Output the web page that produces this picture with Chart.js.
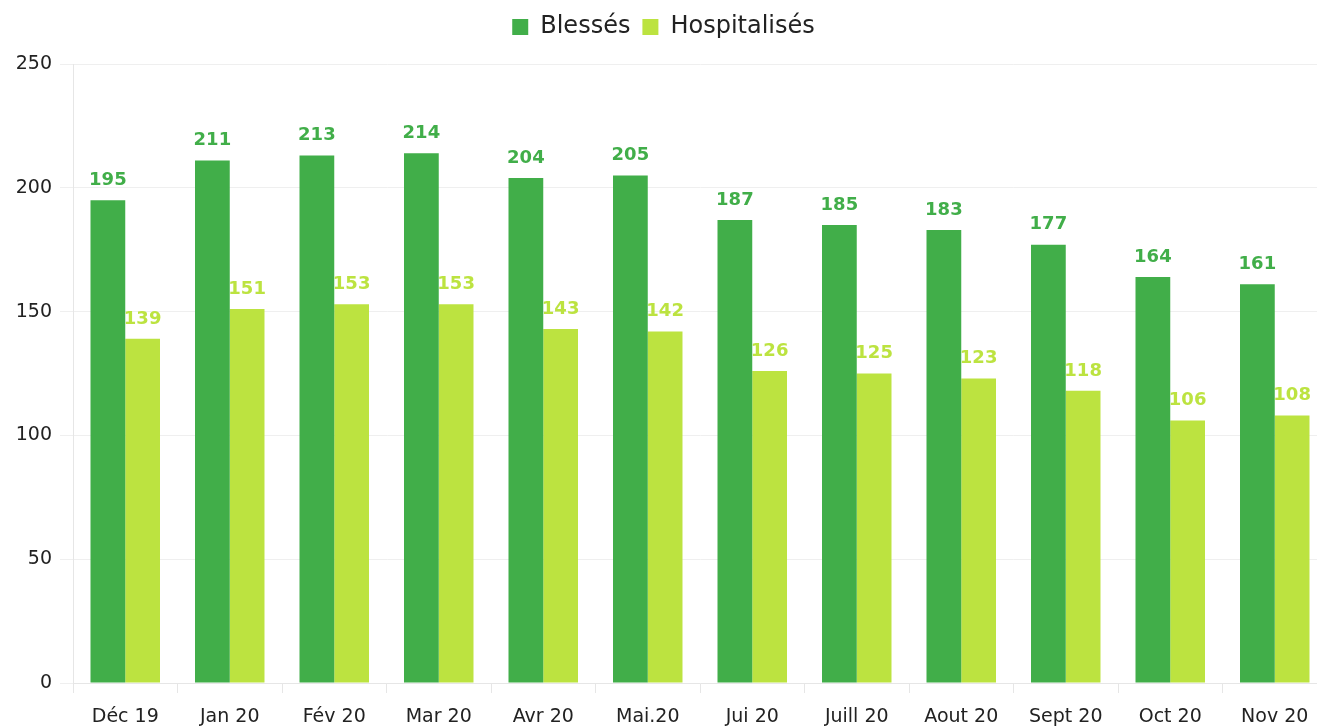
<!DOCTYPE html>
<html>
<head>
<meta charset="utf-8">
<script src="https://cdn.jsdelivr.net/npm/chart.js@4/dist/chart.umd.min.js"></script>
<style>
  html, body { margin: 0; padding: 0; background: #fff; overflow: hidden; }
  #wrap { width: 1327px; height: 726px; position: relative; }
</style>
</head>
<body>
<div id="wrap"><canvas id="accidents"></canvas></div>
<script>
const months = ["Déc 19", "Jan 20", "Fév 20", "Mar 20", "Avr 20", "Mai.20", "Jui 20", "Juill 20", "Aout 20", "Sept 20", "Oct 20", "Nov 20"];
const blesses = [195, 211, 213, 214, 204, 205, 187, 185, 183, 177, 164, 161];
const hospitalises = [139, 151, 153, 153, 143, 142, 126, 125, 123, 118, 106, 108];
const yTicks = [0, 50, 100, 150, 200, 250];

const darkGreen = "#41ae49";
const lightGreen = "#bce340";
const font = "'DejaVu Sans', sans-serif";

// draws the value on top of each bar
const valueLabels = {
  id: "valueLabels",
  afterDatasetsDraw(chart) {
    const ctx = chart.ctx;
    ctx.save();
    ctx.font = "bold 18px " + font;
    ctx.textAlign = "center";
    ctx.textBaseline = "bottom";
    chart.data.datasets.forEach((ds, i) => {
      const meta = chart.getDatasetMeta(i);
      ctx.fillStyle = ds.backgroundColor;
      meta.data.forEach((bar, j) => {
        ctx.fillText(ds.data[j], bar.x, bar.y - 11);
      });
    });
    ctx.restore();
  }
};

// leave more room under the legend
const legendGap = {
  id: "legendGap",
  beforeUpdate(chart) {
    const lg = chart.legend;
    if (lg && !lg._gapped) {
      const fit = lg.fit;
      lg.fit = function () {
        fit.call(this);
        this.height += 15;
      };
      lg._gapped = true;
    }
  }
};

new Chart(document.getElementById("accidents"), {
  type: "bar",
  data: {
    labels: months,
    datasets: [
      { label: "Blessés", data: blesses, backgroundColor: darkGreen },
      { label: "Hospitalisés", data: hospitalises, backgroundColor: lightGreen }
    ]
  },
  options: {
    responsive: true,
    maintainAspectRatio: false,
    animation: false,
    layout: { padding: { left: 0, right: 0, top: 3, bottom: 0 } },
    datasets: {
      bar: { categoryPercentage: 0.665, barPercentage: 1.0 }
    },
    plugins: {
      legend: {
        position: "top",
        labels: {
          color: "#222",
          font: { family: font, size: 24 },
          boxWidth: 16,
          boxHeight: 16,
          padding: 12
        }
      },
      tooltip: { enabled: false }
    },
    scales: {
      x: {
        offset: true,
        grid: {
          offset: true,
          drawOnChartArea: false,
          drawTicks: true,
          tickLength: 10,
          color: "#e6e6e6"
        },
        border: { color: "#e6e6e6" },
        ticks: { color: "#222", font: { family: font, size: 19 }, padding: 13 },
        afterFit(scale) { scale.height = 43; }
      },
      y: {
        min: 0,
        max: 250,
        afterBuildTicks(scale) { scale.ticks = yTicks.map(v => ({ value: v })); },
        grid: { color: "#efefef", tickLength: 13 },
        border: { color: "#e6e6e6" },
        ticks: { color: "#222", font: { family: font, size: 19 }, padding: 8 },
        afterFit(scale) { scale.width = 73; }
      }
    }
  },
  plugins: [legendGap, valueLabels]
});
</script>
</body>
</html>
